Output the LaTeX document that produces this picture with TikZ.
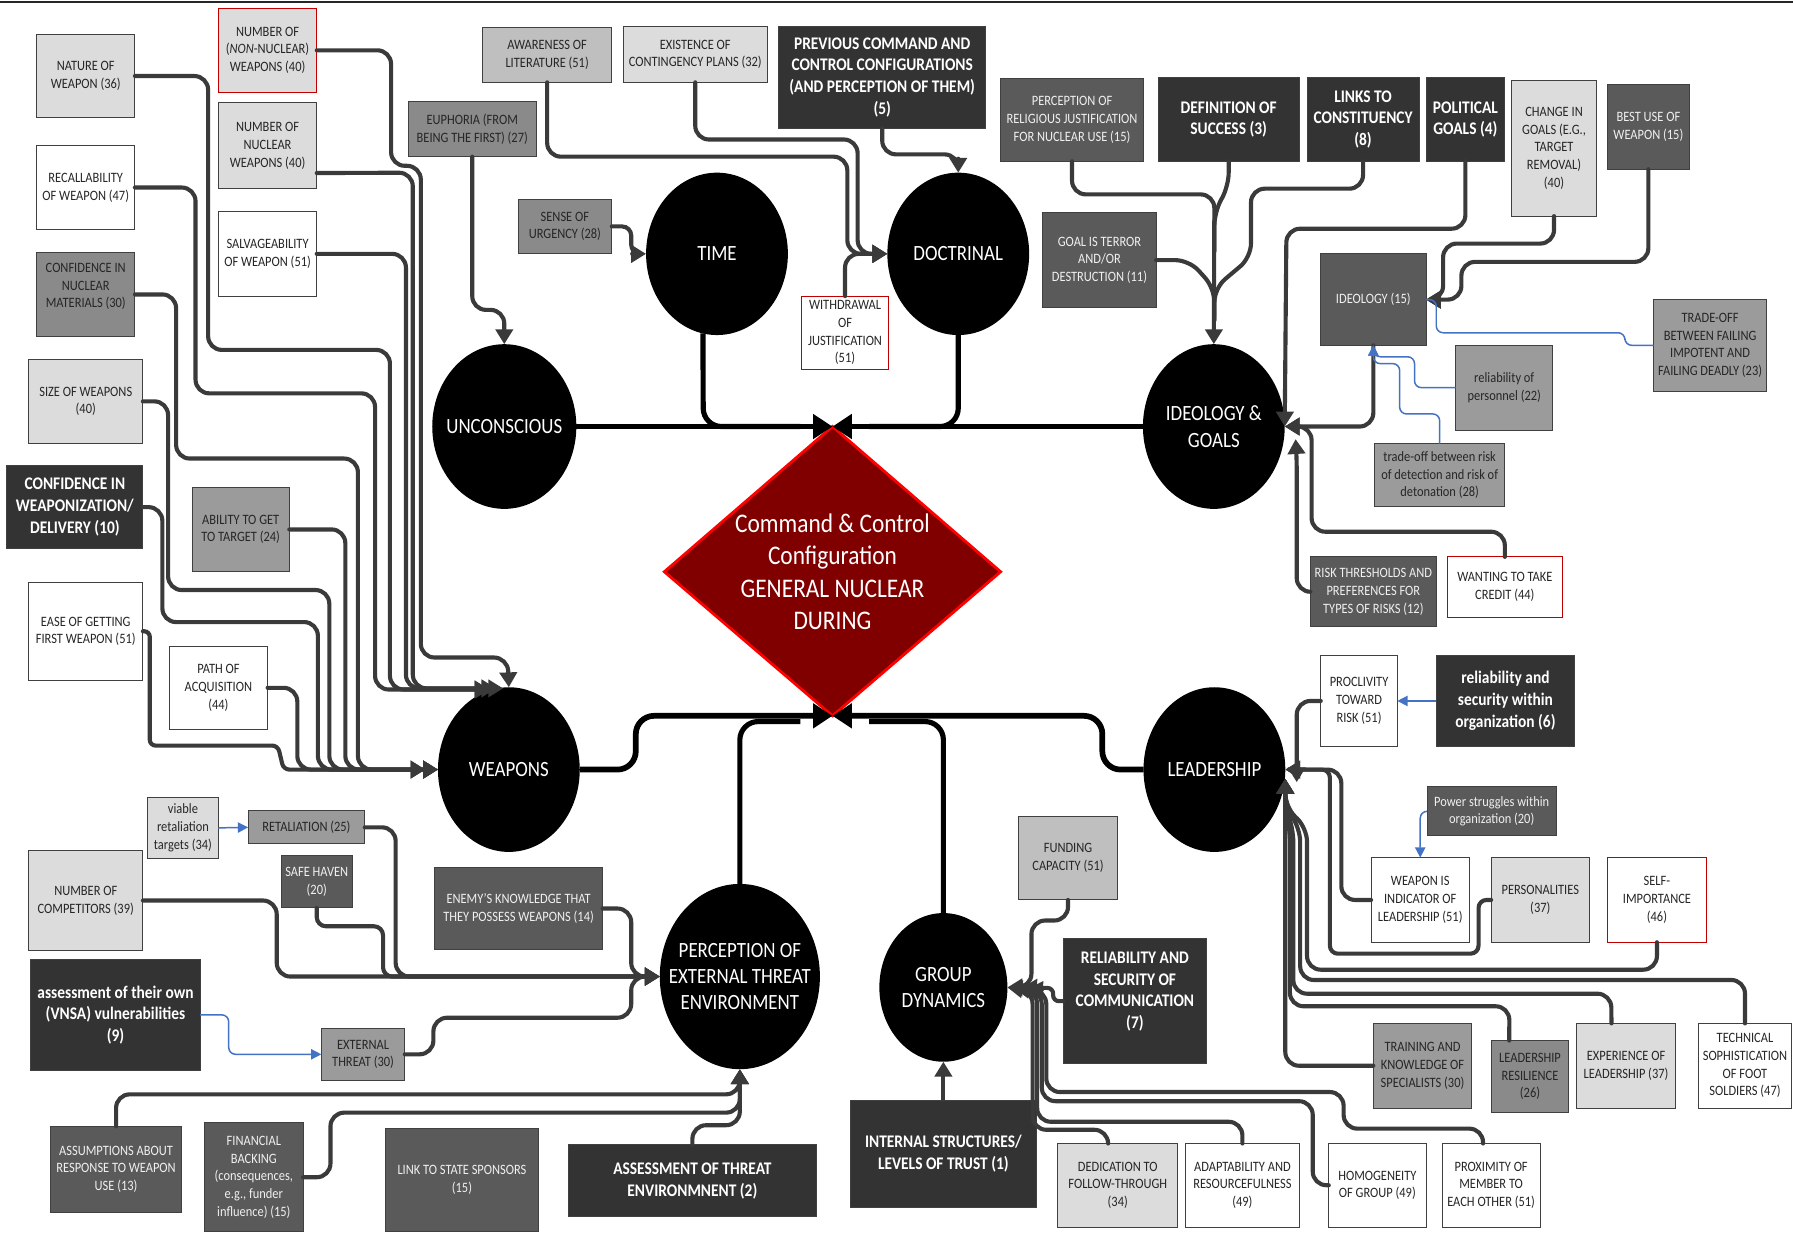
\documentclass[tikz,border=0pt]{standalone}
\usepackage{fontspec}
\setmainfont{Carlito}[FakeStretch=0.87]
\usetikzlibrary{arrows.meta,shapes.geometric}
\definecolor{lc}{HTML}{3A3A3A}
\definecolor{bdr}{HTML}{404040}
\definecolor{cLG}{HTML}{DCDCDC}
\definecolor{cSL}{HTML}{BFBFBF}
\definecolor{cMD}{HTML}{9B9B9B}
\definecolor{cMG}{HTML}{8A8A8A}
\definecolor{cDG}{HTML}{5A5A5A}
\definecolor{cBK}{HTML}{333333}
\definecolor{rb}{HTML}{C00000}
\definecolor{bl}{HTML}{4472C4}
\definecolor{dred}{HTML}{800000}
\definecolor{tx}{HTML}{262626}
\newcommand\mybox[7]{\node[bx,#6,minimum width={#4-#2},minimum height={#5-#3}] (#1) at ({(#2+#4)/2},{(#3+#5)/2}) {#7};}
\newcommand\myell[6]{\node[ell,minimum width={2*#4},minimum height={2*#5}] (#1) at (#2,#3) {};
  \node[elltext] (#1-t) at (#1.center) {#6};}
\begin{document}
\begin{tikzpicture}[x=1pt,y=-1pt,
 bx/.style={draw=bdr,line width=0.8pt,inner sep=1pt,outer sep=0pt,align=center,text=tx,font=\fontsize{12.5}{15.5}\selectfont},
 fLG/.style={fill=cLG}, fW/.style={fill=white}, fSL/.style={fill=cSL}, fMD/.style={fill=cMD}, fMG/.style={fill=cMG},
 fDG/.style={fill=cDG,text=white!94!black},
 fBK/.style={fill=cBK,text=white,font=\fontsize{15.5}{19}\selectfont\bfseries},
 redb/.style={draw=rb},
 ell/.style={ellipse,fill=black,inner sep=0pt,outer sep=0pt},
 elltext/.style={align=center,text=white,inner sep=0pt,font=\fontsize{19}{23}\selectfont},
 conn/.style={draw=lc,line width=3.6pt,rounded corners=12pt,line cap=round},
 arr/.style={-{Triangle[length=13pt,width=15pt]}},
 spine/.style={draw=black,line width=5pt,rounded corners=16pt},
 sarr/.style={-{Triangle[length=17pt,width=21pt]}},
 bconn/.style={draw=bl,line width=1.3pt,rounded corners=6pt},
 barr/.style={-{Triangle[length=9pt,width=9pt]}}]
\fill[white] (0,0) rectangle (1568,1081);
\useasboundingbox (0,0) rectangle (1568,1081);
\draw[line width=2pt,black!85] (0,1.5) -- (1568,1.5);

% ---------- boxes ----------
\mybox{nature}{32}{30}{118}{103}{fLG}{NATURE OF\\WEAPON (36)}
\mybox{nonnuc}{191}{7}{277}{81}{fLG,redb}{NUMBER OF\\(\textit{NON}-NUCLEAR)\\WEAPONS (40)}
\mybox{nuc}{191}{90}{277}{165}{fLG}{NUMBER OF\\NUCLEAR\\WEAPONS (40)}
\mybox{recall}{32}{127}{118}{201}{fW}{RECALLABILITY\\OF WEAPON (47)}
\mybox{salv}{191}{185}{277}{259}{fW}{SALVAGEABILITY\\OF WEAPON (51)}
\mybox{confnuc}{32}{221}{118}{294}{fMG}{CONFIDENCE IN\\NUCLEAR\\MATERIALS (30)\\ \mbox{}}
\mybox{size}{25}{314}{125}{388}{fLG}{SIZE OF WEAPONS\\(40)}
\mybox{confweap}{6}{407}{125}{480}{fBK}{CONFIDENCE IN\\WEAPONIZATION/\\DELIVERY (10)}
\mybox{ability}{168}{426}{253}{500}{fMD}{ABILITY TO GET\\TO TARGET (24)}
\mybox{ease}{25}{509}{125}{595}{fW}{EASE OF GETTING\\FIRST WEAPON (51)}
\mybox{path}{148}{565}{234}{638}{fW}{PATH OF\\ACQUISITION\\(44)}
\mybox{euph}{357}{89}{469}{137}{fMG}{EUPHORIA (FROM\\BEING THE FIRST) (27)}
\mybox{aware}{422}{24}{535}{72}{fSL}{AWARENESS OF\\LITERATURE (51)}
\mybox{exist}{545}{23}{671}{72}{fLG}{EXISTENCE OF\\CONTINGENCY PLANS (32)}
\mybox{prev}{681}{23}{862}{112}{fBK}{PREVIOUS COMMAND AND\\CONTROL CONFIGURATIONS\\(AND PERCEPTION OF THEM)\\(5)}
\mybox{urgency}{453}{174}{535}{222}{fMG}{SENSE OF\\URGENCY (28)}
\mybox{withdraw}{701}{259}{777}{323}{fW,redb}{WITHDRAWAL\\OF\\JUSTIFICATION\\(51)}
\mybox{relig}{875}{69}{1000}{141}{fDG}{PERCEPTION OF\\RELIGIOUS JUSTIFICATION\\FOR NUCLEAR USE (15)}
\mybox{defsucc}{1013}{68}{1136}{141}{fBK}{DEFINITION OF\\SUCCESS (3)}
\mybox{links}{1143}{68}{1241}{141}{fBK}{LINKS TO\\CONSTITUENCY\\(8)}
\mybox{polit}{1247}{68}{1316}{141}{fBK}{POLITICAL\\GOALS (4)}
\mybox{change}{1322}{70}{1396}{189}{fLG}{CHANGE IN\\GOALS (E.G.,\\TARGET\\REMOVAL)\\(40)}
\mybox{bestuse}{1406}{74}{1477}{148}{fDG}{BEST USE OF\\WEAPON (15)}
\mybox{terror}{912}{186}{1011}{269}{fDG}{GOAL IS TERROR\\AND/OR\\DESTRUCTION (11)}
\mybox{ideol}{1155}{222}{1247}{302}{fDG}{IDEOLOGY (15)}
\mybox{tradefail}{1446}{262}{1545}{342}{fMD}{TRADE-OFF\\BETWEEN FAILING\\IMPOTENT AND\\FAILING DEADLY (23)}
\mybox{relpers}{1273}{302}{1358}{376}{fMD}{reliability of\\personnel (22)}
\mybox{traderisk}{1202}{388}{1316}{443}{fMD}{trade-off between risk\\of detection and risk of\\detonation (28)}
\mybox{riskthr}{1146}{487}{1256}{548}{fDG}{RISK THRESHOLDS AND\\PREFERENCES FOR\\TYPES OF RISKS (12)}
\mybox{credit}{1266}{487}{1366}{540}{fW,redb}{WANTING TO TAKE\\CREDIT (44)}
\mybox{procliv}{1155}{573}{1222}{653}{fW}{PROCLIVITY\\TOWARD\\RISK (51)}
\mybox{relsec}{1256}{573}{1377}{653}{fBK}{reliability and\\security within\\organization (6)}
\mybox{power}{1248}{688}{1361}{731}{fDG}{Power struggles within\\organization (20)}
\mybox{wpnind}{1199}{750}{1285}{824}{fW}{WEAPON IS\\INDICATOR OF\\LEADERSHIP (51)}
\mybox{person}{1304}{750}{1390}{824}{fLG}{PERSONALITIES\\(37)}
\mybox{selfimp}{1406}{750}{1492}{824}{fW,redb}{SELF-\\IMPORTANCE\\(46)}
\mybox{training}{1201}{895}{1287}{969}{fMD}{TRAINING AND\\KNOWLEDGE OF\\SPECIALISTS (30)}
\mybox{resil}{1304}{910}{1372}{973}{fMG}{LEADERSHIP\\RESILIENCE\\(26)}
\mybox{exper}{1379}{895}{1465}{969}{fLG}{EXPERIENCE OF\\LEADERSHIP (37)}
\mybox{tech}{1485}{895}{1567}{969}{fW}{TECHNICAL\\SOPHISTICATION\\OF FOOT\\SOLDIERS (47)}
\mybox{homog}{1162}{1000}{1247}{1073}{fW}{HOMOGENEITY\\OF GROUP (49)}
\mybox{prox}{1261}{1000}{1347}{1073}{fW}{PROXIMITY OF\\MEMBER TO\\EACH OTHER (51)}
\mybox{adapt}{1037}{1000}{1136}{1073}{fW}{ADAPTABILITY AND\\RESOURCEFULNESS\\(49)}
\mybox{dedic}{925}{1000}{1030}{1073}{fLG}{DEDICATION TO\\FOLLOW-THROUGH\\(34)}
\mybox{internal}{744}{962}{906}{1056}{fBK}{INTERNAL STRUCTURES/\\LEVELS OF TRUST (1)}
\mybox{funding}{891}{714}{977}{787}{fSL}{FUNDING\\CAPACITY (51)}
\mybox{relcomm}{930}{821}{1055}{930}{fBK}{RELIABILITY AND\\SECURITY OF\\COMMUNICATION\\(7)\\ \mbox{}}
\mybox{assessthr}{497}{1001}{714}{1064}{fBK}{ASSESSMENT OF THREAT\\ENVIRONMNENT (2)}
\mybox{linkstate}{337}{987}{471}{1077}{fDG}{LINK TO STATE SPONSORS\\(15)}
\mybox{financial}{179}{982}{265}{1077}{fDG}{FINANCIAL\\BACKING\\(consequences,\\e.g., funder\\influence) (15)}
\mybox{assump}{44}{985}{159}{1060}{fDG}{ASSUMPTIONS ABOUT\\RESPONSE TO WEAPON\\USE (13)}
\mybox{vnsa}{27}{839}{175}{936}{fBK}{assessment of their own\\(VNSA) vulnerabilities\\(9)}
\mybox{extthr}{281}{899}{354}{945}{fMD}{EXTERNAL\\THREAT (30)}
\mybox{competitors}{25}{744}{125}{831}{fLG}{NUMBER OF\\COMPETITORS (39)}
\mybox{viable}{129}{697}{191}{751}{fLG}{viable\\retaliation\\targets (34)}
\mybox{retal}{217}{709}{319}{738}{fMD}{RETALIATION (25)}
\mybox{safe}{246}{748}{308}{794}{fDG}{SAFE HAVEN\\(20)}
\mybox{enemy}{380}{759}{527}{830}{fDG}{ENEMY’S KNOWLEDGE THAT\\THEY POSSESS WEAPONS (14)}

% ---------- ellipses ----------
\myell{time}{627}{222}{62}{71}{TIME}
\myell{doct}{838}{222}{62}{71}{DOCTRINAL}
\myell{uncon}{441}{373}{63}{72}{UNCONSCIOUS}
\myell{ideog}{1061.5}{373}{62}{72}{IDEOLOGY \&\\GOALS}
\myell{weap}{445}{673}{62}{72}{WEAPONS}
\myell{lead}{1062}{673}{62}{72}{LEADERSHIP}
\myell{perc}{647}{854}{70}{81}{PERCEPTION OF\\EXTERNAL THREAT\\ENVIRONMENT}
\myell{group}{825}{863.5}{56}{65}{GROUP\\DYNAMICS}

% ---------- diamond ----------
\fill[dred] (728,373) -- (875,500) -- (728,626) -- (581,500) -- cycle;
\draw[red,line width=2.5pt,line join=miter] (728,373) -- (875,500) -- (728,626) -- (581,500) -- cycle;
\node[align=center,text=white,font=\fontsize{23.5}{28.5}\selectfont] (cc) at (728,500) {Command \& Control\\Configuration\\GENERAL NUCLEAR\\DURING};

% ---------- named end points ----------
\coordinate (dtop) at (728,373);
\coordinate (dbot) at (728,626);
\coordinate (wt1) at (440,602);
\coordinate (wt2) at (434,602);
\coordinate (wt3) at (428,603);
\coordinate (igR) at (1133,384);
\coordinate (ldn) at (1134,684);
\coordinate (lup) at (1124,681);

% ---------- to WEAPONS (top) ----------
\draw[conn,arr] (nonnuc.east) -- (342,44) -- (342,145) -- (368,145) -- (368,575) -- (444,575) -- (weap.north);
\draw[conn,arr] (nuc.-29) -- (361,151) -- (361,602) -- (wt1);
\draw[conn,arr] (salv.east) -- (355,222) -- (355,602) -- (wt2);
\draw[conn,arr] (nature.east) -- (182,66.5) -- (182,306) -- (341,306) -- (341,603) -- (wt3);
\draw[conn,arr] (recall.east) -- (171,164) -- (171,344) -- (328,344) -- (328,603) -- (wt3);
% ---------- to WEAPONS (left) ----------
\draw[conn,arr] (confnuc.east) -- (154,257.5) -- (154,401) -- (313,401) -- (313,673) -- (weap.west);
\draw[conn,arr] (ability.east) -- (302,463) -- (302,673) -- (weap.west);
\draw[conn,arr] (size.east) -- (147,351) -- (147,516) -- (288,516) -- (288,673) -- (weap.west);
\draw[conn,arr] (confweap.east) -- (142,443.5) -- (142,544) -- (278,544) -- (278,673) -- (weap.west);
\draw[conn,arr,shorten >=11pt] (path.east) -- (260,601.5) -- (260,673) -- (weap.west);
\draw[conn,arr,shorten >=11pt,rounded corners=5pt] (ease.east) -- (131,552) -- (131,652) -- (243,652) -- (248,673) -- (weap.west);

% ---------- UNCONSCIOUS / TIME / DOCTRINAL ----------
\draw[conn,arr] (euph.south) -- (413,271) -- (441,271) -- (uncon.north);
\draw[conn,arr] (aware.south) -- (478.5,137) -- (741,137) -- (741,222) -- (doct.west);
\draw[conn,arr] (exist.south) -- (608,122) -- (750,122) -- (750,222) -- (doct.west);
\draw[conn,arr] (withdraw.north) -- (739,222) -- (doct.west);
\draw[conn,arr] (prev.south) -- (771.5,135) -- (838,135) -- (doct.north);
\draw[conn,arr,rounded corners=8pt] (urgency.east) -- (552,198) -- (552,222) -- (time.west);

% ---------- IDEOLOGY & GOALS ----------
\draw[conn,arr] (relig.south) -- (937.5,170) -- (1062,170) -- (ideog.north);
\draw[conn] (defsucc.south) -- (1074.5,163) -- (1062,185) -- (1062,220);
\draw[conn] (links.south) -- (1192,165) -- (1094,165) -- (1094,225) -- (1062,252) -- (1062,280);
\draw[conn] (terror.east) -- (1040,227.5) -- (1062,252) -- (1062,280);
\draw[conn,arr] (polit.south) -- (1281.5,200) -- (1125,200) -- (ideog.east);
\draw[conn,arr] (change.south) -- (1359,213) -- (1262,213) -- (1262,262) -- (ideol.east);
\draw[conn,arr] (bestuse.south) -- (1441.5,229) -- (1278,229) -- (1278,262) -- (ideol.east);
\draw[conn,arr] (ideol.south) -- (1201,373) -- (ideog.east);
\draw[conn,arr] (riskthr.west) -- (1134,517.5) -- (1134,400) -- (igR);
\draw[conn,arr] (credit.north) -- (1316,465) -- (1147,465) -- (1147,373) -- (ideog.east);

% ---------- PERCEPTION ----------
\draw[conn,arr] (competitors.east) -- (242,787.5) -- (242,854) -- (perc.west);
\draw[conn,arr] (retal.east) -- (346,723.5) -- (346,854) -- (perc.west);
\draw[conn,arr,rounded corners=8pt] (safe.south) -- (277,810) -- (335,810) -- (335,854) -- (perc.west);
\draw[conn,arr] (enemy.east) -- (552,794.5) -- (552,854) -- (perc.west);
\draw[conn,arr] (extthr.east) -- (379,922) -- (379,890) -- (552,890) -- (552,854) -- (perc.west);
\draw[conn,arr] (assump.north) -- (101.5,957) -- (647,957) -- (perc.south);
\draw[conn,arr] (financial.east) -- (289,1029.5) -- (289,973) -- (647,973) -- (perc.south);
\draw[conn,arr] (assessthr.north) -- (605.5,984) -- (647,984) -- (perc.south);

% ---------- GROUP DYNAMICS ----------
\draw[conn,arr] (internal.north) -- (group.south);
\draw[conn,arr] (funding.south) -- (934,805) -- (902,805) -- (902,863.5) -- (group.east);
\draw[conn,arr,shorten >=13pt,rounded corners=5pt] (relcomm.west) -- (921,875.5) -- (921,864) -- (group.east);
\draw[conn,arr] (dedic.103) -- (969,988) -- (903,988) -- (903,866) -- (group.east);
\draw[conn,arr,shorten >=6pt] (adapt.north) -- (1086.5,981) -- (907,981) -- (907,866) -- (group.east);
\draw[conn,arr,shorten >=12pt] (homog.west) -- (1148,1036.5) -- (1148,963) -- (911,963) -- (911,866) -- (group.east);
\draw[conn,arr,shorten >=18pt] (prox.101) -- (1297,987) -- (1175,987) -- (1175,955) -- (915,955) -- (915,866) -- (group.east);

% ---------- LEADERSHIP ----------
\draw[conn,arr] (procliv.west) -- (1134,613) -- (ldn);
\draw[conn,arr] (wpnind.west) -- (1173,787) -- (1173,673) -- (lead.east);
\draw[conn,arr,rounded corners=7pt] (person.west) -- (1293,787) -- (1293,834) -- (1163,834) -- (1163,673) -- (lead.east);
\draw[conn,arr] (selfimp.south) -- (1449,848) -- (1143,848) -- (1143,724) -- (1124,706) -- (lup);
\draw[conn,arr] (tech.north) -- (1526,857) -- (1137,857) -- (1137,724) -- (1124,706) -- (lup);
\draw[conn,arr] (exper.109) -- (1409,869) -- (1131,869) -- (1131,724) -- (1124,706) -- (lup);
\draw[conn,arr] (resil.120) -- (1320,880) -- (1128,880) -- (1128,724) -- (1124,706) -- (lup);
\draw[conn,arr] (training.west) -- (1124,932) -- (lup);

% ---------- central spine ----------
\draw[spine,line width=4.5pt] (time.-100) -- (615,373) -- (700,373);
\draw[spine,line width=4.5pt] (doct.south) -- (838,373) -- (760,373);
\draw[spine,sarr] (uncon.east) -- (dtop);
\draw[spine,sarr] (ideog.west) -- (dtop);
\draw[spine,line width=4.5pt] (perc.north) -- (647,631) -- (700,631);
\draw[spine,line width=4.5pt] (group.north) -- (825,631) -- (760,631);
\draw[spine,sarr] (weap.east) -- (556,673) -- (556,626) -- (dbot);
\draw[spine,sarr] (lead.west) -- (964,673) -- (964,626) -- (dbot);

% ---------- blue links ----------
\draw[bconn] (tradefail.west) -- (1421,302) -- (1421,291) -- (1256,291) -- (1256,262) -- (ideol.east);
\draw[bconn,barr] (relpers.west) -- (1237,339) -- (1237,312) -- (1201,312) -- (ideol.south);
\draw[bconn,barr] (traderisk.north) -- (1259,362) -- (1224,362) -- (1224,318) -- (1201,318) -- (ideol.south);
\draw[bconn,barr] (vnsa.east) -- (200,887.5) -- (200,922) -- (extthr.west);
\draw[bconn,barr] (viable.east) -- (retal.west);
\draw[bconn,barr] (relsec.west) -- (procliv.east);
\draw[bconn,barr] (power.west) -- (1242,709.5) -- (wpnind.north);
\end{tikzpicture}
\end{document}
